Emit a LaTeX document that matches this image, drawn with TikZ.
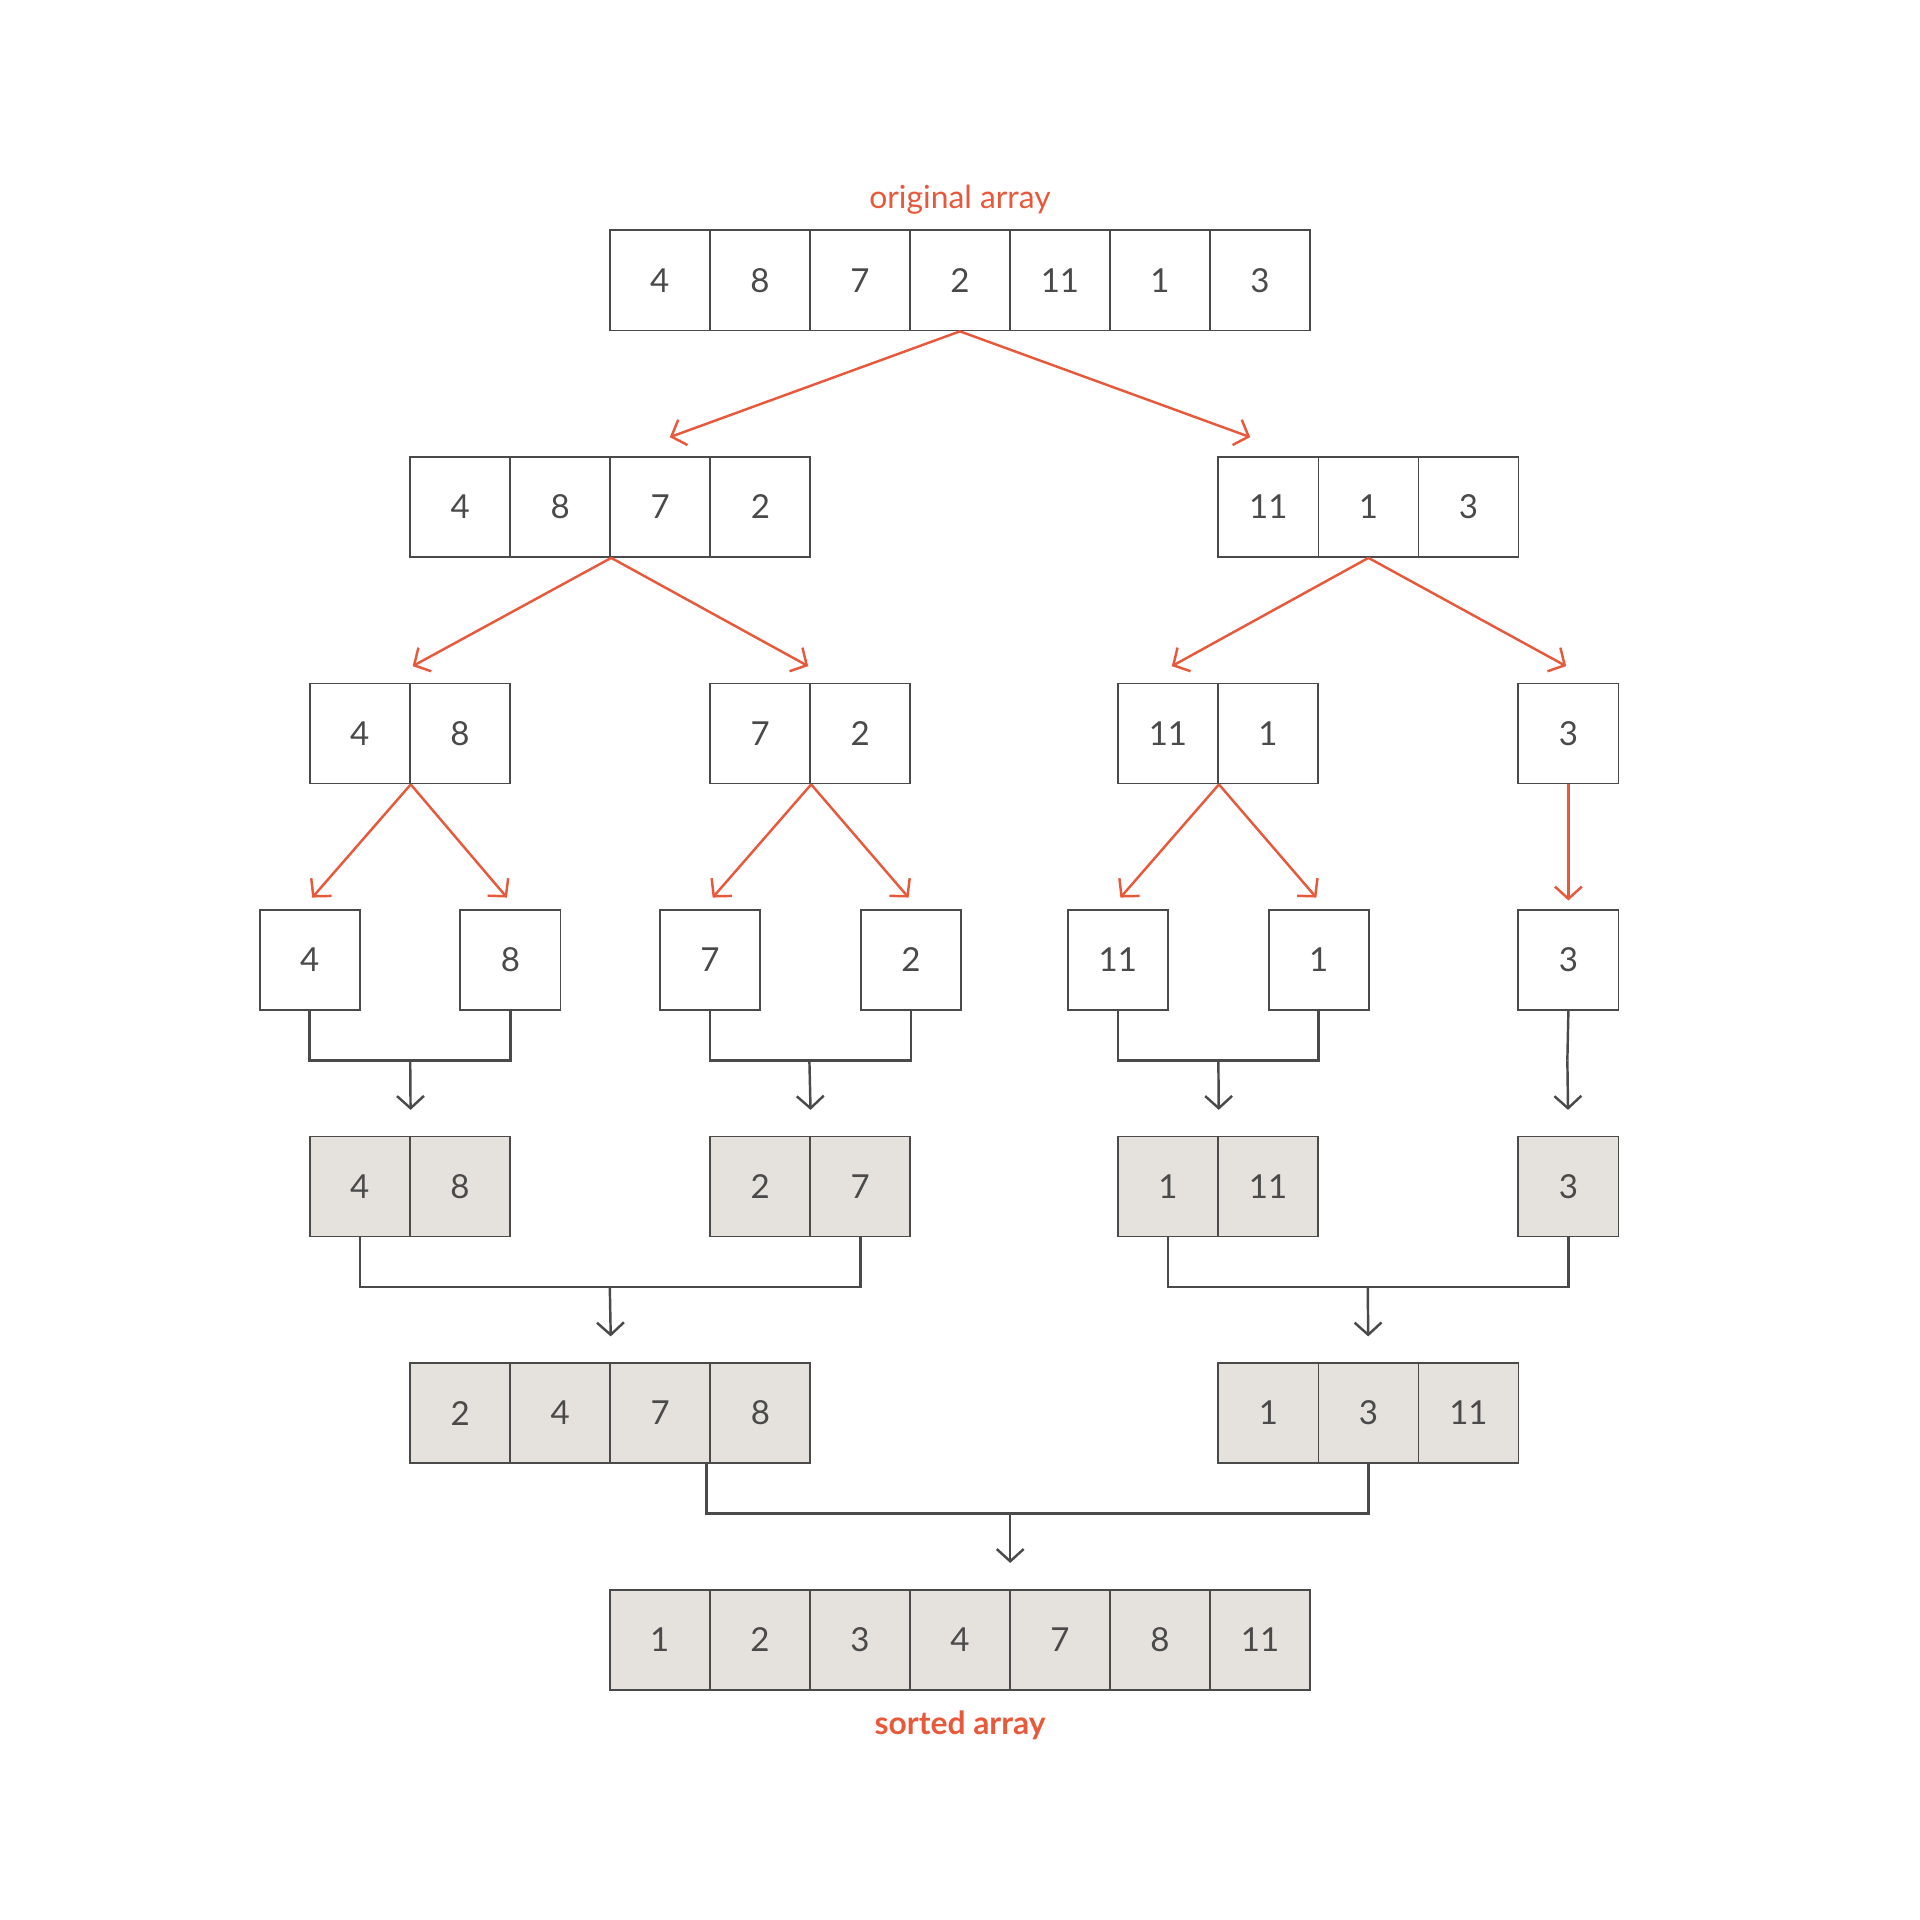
\documentclass[tikz,border=0pt]{standalone}
\usepackage{fontspec}
\setmainfont{Lato}
\usetikzlibrary{arrows.meta}
\definecolor{accent}{HTML}{E8583A}
\definecolor{ink}{HTML}{4A4A4A}
\definecolor{done}{HTML}{E5E2DE}
\tikzset{
  cell/.style={draw=ink, line width=1.5pt, minimum size=81.7pt, inner sep=0pt, text=ink, font=\fontsize{27}{30}\selectfont},
  sorted/.style={cell, fill=done},
  split/.style={draw=accent, line width=2pt, -{Straight Barb[length=10pt,width=22pt]}},
  merge/.style={draw=ink, line width=2pt},
  mergetip/.style={draw=ink, line width=2pt, -{Straight Barb[length=10pt,width=22pt]}},
  caption/.style={text=accent, font=\fontsize{26}{30}\selectfont}
}
% one row of cells: name, left x, centre y, values, style
\newcommand\cellrow[5]{\foreach \v [count=\i] in {#4} \node[#5] (#1-\i) at ({#2+(\i-0.5)*81.7},#3) {\v};}
\begin{document}
\begin{tikzpicture}[x=1pt,y=-1pt]
  \useasboundingbox (0,0) rectangle (1568,1568);
  \node[caption] (orig) at (784,163) {original array};
  \node[caption, font=\bfseries\fontsize{26}{30}\selectfont] (final) at (784,1409) {sorted array};

  \cellrow{o}{498}{229}{4,8,7,2,11,1,3}{cell}
  \cellrow{a}{335}{414}{4,8,7,2}{cell}
  \cellrow{b}{995}{414}{11,1,3}{cell}
  \cellrow{c}{253}{599}{4,8}{cell}
  \cellrow{d}{580}{599}{7,2}{cell}
  \cellrow{e}{913}{599}{11,1}{cell}
  \cellrow{f}{1240}{599}{3}{cell}
  \cellrow{ga}{212}{784}{4}{cell}
  \cellrow{gb}{376}{784}{8}{cell}
  \cellrow{gc}{539}{784}{7}{cell}
  \cellrow{gd}{703}{784}{2}{cell}
  \cellrow{ge}{872}{784}{11}{cell}
  \cellrow{gf}{1036}{784}{1}{cell}
  \cellrow{gg}{1240}{784}{3}{cell}
  \cellrow{ha}{253}{969}{4,8}{sorted}
  \cellrow{hb}{580}{969}{2,7}{sorted}
  \cellrow{hc}{913}{969}{1,11}{sorted}
  \cellrow{hd}{1240}{969}{3}{sorted}
  \cellrow{ka}{335}{1154}{2,4,7,8}{sorted}
  \cellrow{kb}{995}{1154}{1,3,11}{sorted}
  \cellrow{s}{498}{1339}{1,2,3,4,7,8,11}{sorted}

  % split ends
  \coordinate (oa) at (547,357);  \coordinate (ob) at (1021,357);
  \coordinate (ac) at (337,544);  \coordinate (ad) at (660,544);
  \coordinate (be) at (957,544);  \coordinate (bf) at (1279,544);
  \coordinate (cga) at (255,733); \coordinate (cgb) at (414,733);
  \coordinate (dgc) at (582,733); \coordinate (dgd) at (742,733);
  \coordinate (ege) at (915,733); \coordinate (egf) at (1075,733);

  \draw[split] (o-4.south) -- (oa);
  \draw[split] (o-4.south) -- (ob);
  \draw[split] (a-2.south east) -- (ac);
  \draw[split] (a-2.south east) -- (ad);
  \draw[split] (b-2.south) -- (be);
  \draw[split] (b-2.south) -- (bf);
  \draw[split] (c-1.south east) -- (cga);
  \draw[split] (c-1.south east) -- (cgb);
  \draw[split] (d-1.south east) -- (dgc);
  \draw[split] (d-1.south east) -- (dgd);
  \draw[split] (e-1.south east) -- (ege);
  \draw[split] (e-1.south east) -- (egf);
  \draw[split, shorten >=7pt] (f-1.south) -- (gg-1.north);

  % merges
  \coordinate (mha) at (335,866);  \coordinate (mhb) at (661,866);
  \coordinate (mhc) at (995,866);  \coordinate (mhd) at (1280,866);
  \coordinate (mka) at (498,1051); \coordinate (mkb) at (1117,1051);
  \coordinate (ms) at (825,1236);

  \draw[merge] (ga-1.south) |- (mha) -| (gb-1.south);
  \draw[merge] (gc-1.south) |- (mhb) -| (gd-1.south);
  \draw[merge] (ge-1.south) |- (mhc) -| (gf-1.south);
  \draw[merge] (gg-1.south) -- (mhd);
  \draw[merge] (ha-1.south) |- (mka) -| (hb-2.south);
  \draw[merge] (hc-1.south) |- (mkb) -| (hd-1.south);
  \draw[merge] ([xshift=-4pt]ka-3.south east) |- (ms) -| (kb-2.south);

  \draw[mergetip, shorten >=21pt] (mha) -- (ha-1.south east |- ha-1.north);
  \draw[mergetip, shorten >=21pt] (mhb) -- (hb-1.south east |- hb-1.north);
  \draw[mergetip, shorten >=21pt] (mhc) -- (hc-1.south east |- hc-1.north);
  \draw[mergetip, shorten >=21pt] (mhd) -- (hd-1.north);
  \draw[mergetip, shorten >=21pt] (mka) -- (ka-2.south east |- ka-2.north);
  \draw[mergetip, shorten >=21pt] (mkb) -- (kb-2.north);
  \draw[mergetip, shorten >=21pt] (ms) -- (ms |- s-5.north);
\end{tikzpicture}
\end{document}
